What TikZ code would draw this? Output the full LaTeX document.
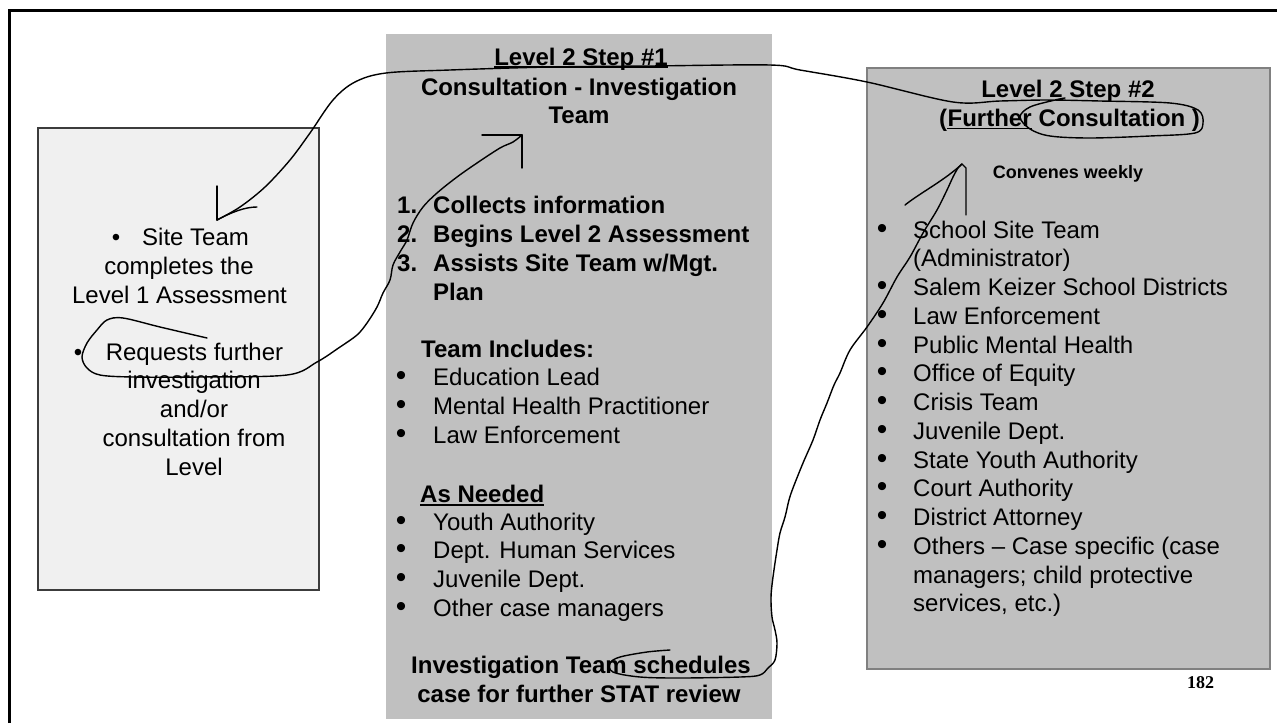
\documentclass[tikz,border=0pt]{standalone}
\usepackage{fontspec}
\setmainfont{Liberation Sans}
\newfontfamily\serifnum{Liberation Serif}
\definecolor{lfill}{RGB}{240,240,240}
\definecolor{lline}{RGB}{60,60,60}
\definecolor{gfill}{RGB}{192,192,192}
\definecolor{gline}{RGB}{128,128,128}
\begin{document}
\begin{tikzpicture}[x=1pt,y=-1pt,
  txt/.style={inner sep=0pt, anchor=base west, font=\fontsize{24}{29}\selectfont},
  ctxt/.style={txt, anchor=base},
  btxt/.style={txt, font=\bfseries\fontsize{24}{29}\selectfont},
  cbtxt/.style={btxt, anchor=base},
  bul/.style={inner sep=0pt, anchor=base, font=\fontsize{30}{30}\selectfont},
  sbul/.style={inner sep=0pt, anchor=base, font=\fontsize{24}{24}\selectfont},
  uline/.style={line width=1.8pt},
  hand/.style={line width=1.4pt, line cap=round, line join=round},
  box/.style={inner sep=0pt, outer sep=0pt}]
\useasboundingbox (0,0) rectangle (1277,723);
% frame (top and left edges)
\coordinate (fbl) at (9,723);
\coordinate (ftl) at (9,10);
\coordinate (ftr) at (1277,10);
\draw[line width=3pt] (fbl) -- (ftl) -- (ftr);
% boxes
\node[box, fill=lfill, draw=lline, line width=2.5pt, minimum width=281pt, minimum height=462pt] (lbox) at (178.5,359) {};
\node[box, fill=gfill, minimum width=386pt, minimum height=685pt] (mbox) at (579,376.5) {};
\node[box, fill=gfill, draw=gline, line width=1.8pt, minimum width=403pt, minimum height=601pt] (rbox) at (1068.5,368.5) {};
% left box text
\node[sbul] (lb1) at (116,245) {•};
\node[txt] (l1) at (142,245) {Site Team};
\node[ctxt] (l2) at (179,274) {completes the};
\node[ctxt] (l3) at (179.5,303) {Level 1 Assessment};
\node[sbul] (lb2) at (78,360) {•};
\node[ctxt] (l4) at (194.5,360) {Requests further};
\node[ctxt] (l5) at (194,388) {investigation};
\node[ctxt] (l6) at (194,417) {and/or};
\node[ctxt] (l7) at (194,446) {consultation from};
\node[ctxt] (l8) at (194,475) {Level};
% middle box text
\node[cbtxt] (m1) at (581,65) {Level 2 Step \#1};
\draw[uline] ([yshift=-2pt]m1.base west) -- ([yshift=-2pt]m1.base east);
\node[cbtxt] (m2) at (579,95) {Consultation - Investigation};
\node[cbtxt] (m3) at (579,123) {Team};
\node[btxt] (mn1) at (397,213) {1.};
\node[btxt] (mt1) at (433,213) {Collects information};
\node[btxt] (mn2) at (397,242) {2.};
\node[btxt] (mt2) at (433,242) {Begins Level 2 Assessment};
\node[btxt] (mn3) at (397,271) {3.};
\node[btxt] (mt3) at (433,271) {Assists Site Team w/Mgt.};
\node[btxt] (mt4) at (433,300) {Plan};
\node[btxt] (mh1) at (421,357) {Team Includes:};
\node[bul] (mb1) at (401,385) {•};
\node[txt] (mi1) at (433,385) {Education Lead};
\node[bul] (mb2) at (401,414) {•};
\node[txt] (mi2) at (433,414) {Mental Health Practitioner};
\node[bul] (mb3) at (401,443) {•};
\node[txt] (mi3) at (433,443) {Law Enforcement};
\node[btxt] (mh2) at (420,502) {As Needed};
\draw[uline] ([yshift=-3pt]mh2.base west) -- ([yshift=-3pt]mh2.base east);
\node[bul] (mb4) at (401,530) {•};
\node[txt] (mi4) at (433,530) {Youth Authority};
\node[bul] (mb5) at (401,558.5) {•};
\node[txt] (mi5) at (433,558.5) {Dept. Human Services};
\node[bul] (mb6) at (401,587) {•};
\node[txt] (mi6) at (433,587) {Juvenile Dept.};
\node[bul] (mb7) at (401,616) {•};
\node[txt] (mi7) at (433,616) {Other case managers};
\node[cbtxt] (m4) at (581,673) {Investigation Team schedules};
\node[cbtxt] (m5) at (579,702) {case for further STAT review};
% right box text
\node[cbtxt] (r1) at (1068,97) {Level 2 Step \#2};
\node[btxt] (rc1) at (939,126) {(};
\node[btxt] (rc2) at (rc1.base east) {Further};
\node[btxt] (rc3) at (rc2.base east) {\ Consultation )};
\draw[uline] ([yshift=-2.5pt]rc2.base west) -- ([yshift=-2.5pt]rc2.base east);
\node[inner sep=0pt, anchor=base, font=\bfseries\fontsize{18}{20}\selectfont] (rw) at (1068,178) {Convenes weekly};
\foreach \t/\n [count=\i from 0] in {School Site Team/1, (Administrator)/0, Salem Keizer School Districts/1, Law Enforcement/1, Public Mental Health/1, Office of Equity/1, Crisis Team/1, Juvenile Dept./1, State Youth Authority/1, Court Authority/1, District Attorney/1, Others -- Case specific (case/1, managers; child protective/0, services{,} etc.)/0}{
  \pgfmathsetmacro{\yy}{238+28.75*\i}
  \node[txt] (ri\i) at (913,\yy) {\t};
  \ifnum\n=1 \node[bul] (rb\i) at (882,\yy) {•}; \fi
}
\node[inner sep=0pt, anchor=base, font=\serifnum\bfseries\fontsize{18}{20}\selectfont] (pg) at (1200.5,688) {182};
% hand-drawn annotation A (from right title to left box)
\coordinate (atip) at (217,220);
\draw[hand] plot[smooth, tension=0.55] coordinates {(1065,98) (1055,100) (1030,107) (1020,117) (1030,129) (1050,136) (1090,138) (1150,136) (1195,133) (1203,123) (1198,110) (1170,103) (1100,101) (1047,100) (1000,101) (953,102) (867,82) (800,70) (770,65) (650,66) (550,67) (450,70) (386,73) (355,82) (333,100) (310,133) (290,160) (265,187) (240,207) (atip)};
\draw[hand] (atip) -- (217,186);
\draw[hand] (atip) .. controls (232,212) and (245,207) .. (257,207);
% hand-drawn annotation B (from left box to middle box)
\coordinate (btip) at (522,135);
\draw[hand] plot[smooth, tension=0.55] coordinates {(207,338) (160,327) (123,318) (107,320) (97,330) (87,343) (82,357) (87,368) (100,375) (133,377) (200,377) (287,375) (317,362) (340,347) (357,335) (367,323) (377,307) (383,293) (390,280) (393,265) (400,252) (407,240) (413,223) (423,207) (437,193) (457,177) (477,163) (500,148) (513,142) (btip)};
\draw[hand] (btip) -- (482,135);
\draw[hand] (btip) -- (522,168);
% hand-drawn annotation C (from middle box bottom to right box)
\coordinate (ctip) at (962,164);
\draw[hand] plot[smooth, tension=0.55] coordinates {(670,650) (647,652) (620,657) (610,663) (613,672) (640,677) (680,678) (740,677) (760,675) (768,668) (775,660) (777,643) (775,630) (772,617) (771,597) (773,577) (777,550) (780,533) (785,517) (789,500) (793,488) (803,463) (813,440) (820,420) (827,403) (834,385) (840,373) (850,350) (867,327) (883,303) (897,277) (910,257) (923,233) (937,210) (947,190) (953,177) (958,168) (ctip)};
\draw[hand] (905,205) .. controls (920,193) and (945,180) .. (ctip) -- (966,168) -- (966,215);
\end{tikzpicture}
\end{document}
